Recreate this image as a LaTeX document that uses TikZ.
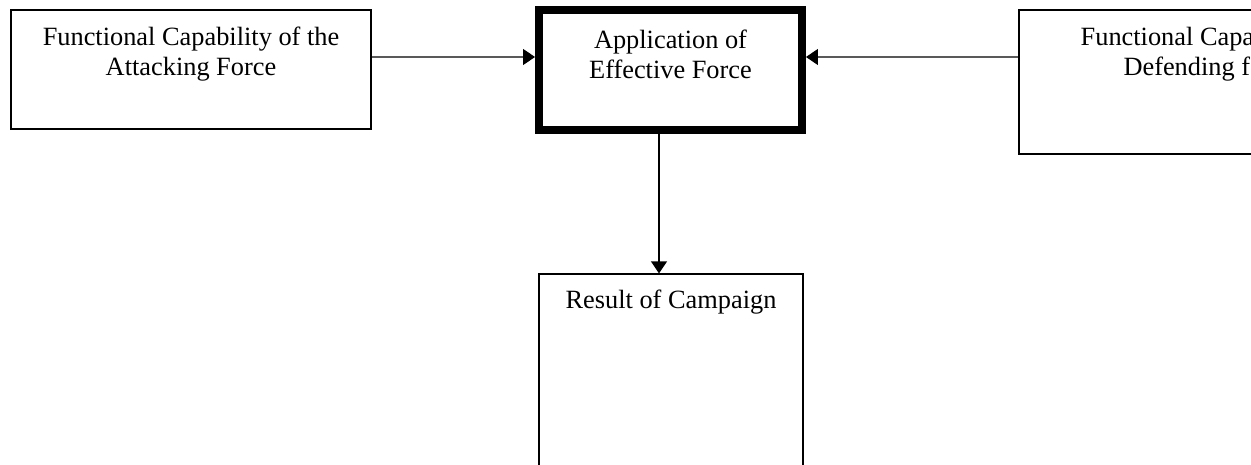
\documentclass[tikz,border=0pt]{standalone}
\usepackage{fontspec}
\setmainfont{Liberation Serif}
\usetikzlibrary{positioning,arrows.meta}
\tikzset{
	box/.style={draw, rectangle, line width=0.7pt, inner sep=0pt},
	bigbox/.style={box, line width=4.5pt},
	lbl/.style={align=center, inner sep=0pt, font=\fontsize{15}{17.1}\selectfont},
	arr/.style={line width=0.7pt, -{Triangle[length=6.8pt,width=9pt]}}
}
\begin{document}
\begin{tikzpicture}[x=0.02cm, y=-0.02cm]
		\useasboundingbox (0,0) rectangle (1251,465);
		% Boxes
		\node[box, minimum width=7.2cm, minimum height=2.38cm] (Attack) at (191,69.5) {};
		\node[bigbox, minimum width=5.26cm, minimum height=2.4cm] (Apply) at (670.5,70) {};
		\node[box, minimum width=7.62cm, minimum height=2.88cm] (Defend) at (1209.5,82) {};
		\node[box, minimum width=5.28cm, minimum height=5.32cm] (Result) at (671,407) {};
		
		% Texts
		\node[lbl, anchor=north, below=0.35cm of Attack.north] (AttackText) {Functional Capability of the\\Attacking Force};
		\node[lbl, anchor=north, below=0.48cm of Apply.north] (ApplyText) {Application of\\Effective Force};
		\node[lbl, anchor=north, below=0.35cm of Defend.north] (DefendText) {Functional Capability of\\Defending force};
		\node[lbl, anchor=north, below=0.33cm of Result.north] (ResultText) {Result of Campaign};
		
		% Arrows
		\draw[arr] ([yshift=0.25cm]Attack.east) -- ([yshift=0.26cm]Apply.west);
		\draw[arr] ([yshift=0.5cm]Defend.west) -- ([yshift=0.26cm]Apply.east);
		\draw[arr] ([xshift=-0.23cm]Apply.south) -- ([xshift=-0.23cm]Apply.south |- Result.north);
		
	\end{tikzpicture}
\end{document}
